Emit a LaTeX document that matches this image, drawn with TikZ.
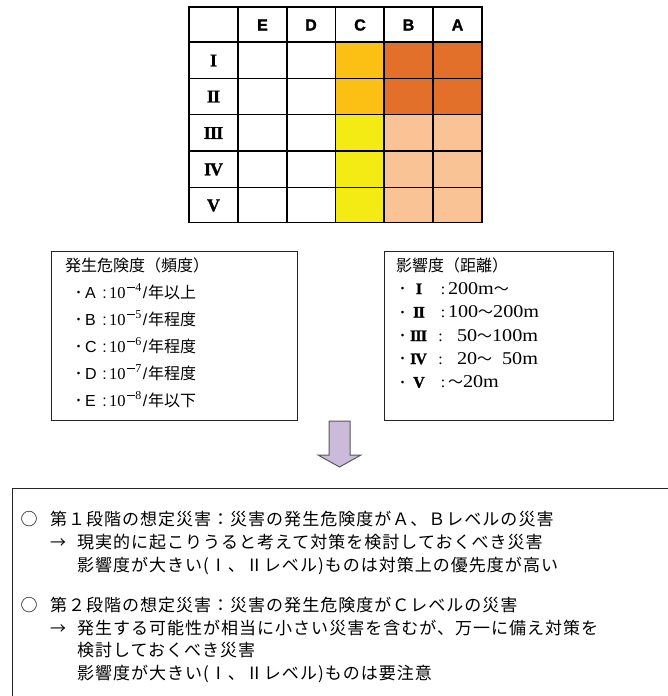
\documentclass[tikz,border=0pt]{standalone}
\usepackage{fontspec}
\setmainfont{Liberation Serif}
\newfontfamily\jp{Noto Sans CJK JP}
\newfontfamily\jpw[LetterSpace=6]{Noto Sans CJK JP}
\newfontfamily\lsans{Liberation Sans}
\newfontfamily\hsans[FakeBold=1.5]{Liberation Sans Bold}
\newfontfamily\lserif{Liberation Serif}
\newfontfamily\bserif[FakeBold=1.2]{Liberation Serif Bold}
\newfontfamily\wserif[FakeStretch=1.12]{Liberation Serif}
\newcommand\fsz[1]{\fontsize{#1}{#1}\selectfont}
\newcommand\nsr[1]{{\wserif\fsz{18}#1}}
\newcommand\wave{{\jp\fsz{15}〜}}
\newcommand\expo[2]{{\lserif\fsz{16.5}10}\kern1pt\raisebox{10.5pt}{\rule{8.5pt}{0.8pt}}\kern0.3pt\raisebox{6.5pt}{\lserif\fsz{12}#1}\kern1.5pt{\lsans\fsz{16}/}\kern1pt{\jp\fsz{16}#2}}
\definecolor{amber}{RGB}{252,192,20}
\definecolor{dkorange}{RGB}{227,112,42}
\definecolor{ylw}{RGB}{245,235,20}
\definecolor{peach}{RGB}{249,195,150}
\definecolor{lav}{RGB}{203,186,217}
\begin{document}
\begin{tikzpicture}[x=1pt,y=-1pt,
  txt/.style={inner sep=0pt, outer sep=0pt},
  tline/.style={line width=1.4pt},
  tsep/.style={line width=2.2pt},
  tout/.style={line width=1.8pt},
  box/.style={draw=black!85, line width=1.1pt, inner sep=0pt, anchor=north west},
  hdr/.style={txt, font=\hsans\fsz{16}},
  rlab/.style={txt, font=\bserif\fsz{18}},
  rnum/.style={txt, anchor=base, font=\bserif\fsz{16}},
  jp16/.style={txt, font=\jp\fsz{16}},
  big/.style={txt, anchor=base west, font=\jpw\fsz{17}},
  blockarrow/.style={fill=lav, draw=black!65, line width=1pt, line join=miter},
]
\useasboundingbox (0,0) rectangle (668,696);
\clip (0,0) rectangle (668,696);

% ---------- table ----------
\fill[amber] (335.5,42) rectangle (384,114.5);
\fill[ylw] (335.5,114.5) rectangle (384,222.5);
\fill[dkorange] (384,42) rectangle (482,114.5);
\fill[peach] (384,114.5) rectangle (482,222.5);
\foreach \yy in {78.5,114.5,151,187.5} \draw[tline] (189,\yy) -- (482,\yy);
\foreach \xx in {287,335.5,384,433} \draw[tline] (\xx,7) -- (\xx,222.5);
\draw[tsep] (238,7) -- (238,222.5);
\draw[tsep] (189,42) -- (482,42);
\draw[tout] (189,7) rectangle (482,222.5);

\node[hdr] (hE) at (262.5,25) {E};
\node[hdr] (hD) at (311,25) {D};
\node[hdr] (hC) at (360,25) {C};
\node[hdr] (hB) at (408.5,25) {B};
\node[hdr] (hA) at (457.5,25) {A};
\node[rlab] (r1) at (213.5,60.5) {I};
\node[rlab] (r2) at (213.5,96.5) {I\kern-0.8pt I};
\node[rlab] (r3) at (213.5,133) {I\kern-0.8pt I\kern-0.8pt I};
\node[rlab] (r4) at (213.5,169.5) {I\kern-1pt V};
\node[rlab] (r5) at (213.5,205.5) {V};

% ---------- frequency box ----------
\node[box, minimum width=246pt, minimum height=169pt] (freqbox) at (51,251) {};
\node[jp16, anchor=base west] (freqtitle) at (65,271) {発生危険度（頻度）};
\foreach \L/\e/\s/\yy [count=\i] in {A/4/年以上/292, B/5/年程度/319, C/6/年程度/346, D/7/年程度/373, E/8/年以下/400}{
  \node[txt, anchor=base, font=\jp\fsz{13}] (fbul\i) at (78.5,\yy+5.5) {・};
  \node[txt, anchor=base west, font=\lsans\fsz{16}] (flet\i) at (85,\yy+6) {\L};
  \node[txt, anchor=base, font=\lsans\fsz{16}] (fcol\i) at (104.5,\yy+6) {:};
  \node[txt, anchor=base west] (fval\i) at (109,\yy+6) {\expo{\e}{\s}};
}

% ---------- distance box ----------
\node[box, minimum width=229pt, minimum height=169pt] (distbox) at (384,251) {};
\node[jp16, anchor=base west] (disttitle) at (396,271) {影響度（距離）};
\foreach \yy [count=\i] in {288,311.5,335,358,381.5}{
  \node[txt, anchor=base, font=\jp\fsz{13}] (dbul\i) at (402.5,\yy+5.5) {・};
}
\node[rnum] (dn1) at (419,294) {I};
\node[rnum] (dn2) at (419,317.5) {I\kern-0.8pt I};
\node[rnum] (dn3) at (418.5,341) {I\kern-0.8pt I\kern-0.8pt I};
\node[rnum] (dn4) at (418.5,364) {I\kern-1pt V};
\node[rnum] (dn5) at (419,387.5) {V};
\node[txt, anchor=base, font=\lserif\fsz{16}] (dc1) at (443,294) {:};
\node[txt, anchor=base, font=\lserif\fsz{16}] (dc2) at (443,317.5) {:};
\node[txt, anchor=base, font=\lserif\fsz{16}] (dc3) at (440.5,341) {:};
\node[txt, anchor=base, font=\lserif\fsz{16}] (dc4) at (440.5,364) {:};
\node[txt, anchor=base, font=\lserif\fsz{16}] (dc5) at (443,387.5) {:};
\node[txt, anchor=base west] (dv1) at (448,294) {\nsr{200m}\wave};
\node[txt, anchor=base west] (dv2) at (448,317.5) {\nsr{100}\wave\nsr{200m}};
\node[txt, anchor=base west] (dv3) at (457,341) {\nsr{50}\wave\nsr{100m}};
\node[txt, anchor=base west] (dv4a) at (457,364) {\nsr{20}\wave};
\node[txt, anchor=base east] (dv4b) at (538,364) {\nsr{50m}};
\node[txt, anchor=base west] (dv5) at (448,387.5) {\wave\nsr{20m}};

% ---------- block arrow ----------
\draw[blockarrow] (329,421) -- (350,421) -- (350,455) -- (361,455) -- (339.5,467) -- (318,455) -- (329,455) -- cycle;

% ---------- result box ----------
\node[box, minimum width=700pt, minimum height=240pt] (resbox) at (12,488) {};
\node[txt, anchor=base, font=\jp\fsz{17}] (c1) at (29,525.5) {○};
\node[big] (l1) at (50,525.5) {第１段階の想定災害：災害の発生危険度がＡ、Ｂレベルの災害};
\node[txt, anchor=base west, font=\jp\fsz{16}] (a1) at (50,548.5) {→};
\node[big] (l2) at (77,548.5) {現実的に起こりうると考えて対策を検討しておくべき災害};
\node[big] (l3) at (77,571.5) {影響度が大きい(Ⅰ、Ⅱレベル)ものは対策上の優先度が高い};
\node[txt, anchor=base, font=\jp\fsz{17}] (c2) at (29,611.5) {○};
\node[big] (l4) at (50,611.5) {第２段階の想定災害：災害の発生危険度がＣレベルの災害};
\node[txt, anchor=base west, font=\jp\fsz{16}] (a2) at (50,634.5) {→};
\node[big] (l5) at (77,634.5) {発生する可能性が相当に小さい災害を含むが、万一に備え対策を};
\node[big] (l6) at (77,656.5) {検討しておくべき災害};
\node[big] (l7) at (77,679.5) {影響度が大きい(Ⅰ、Ⅱレベル)ものは要注意};
\end{tikzpicture}
\end{document}
